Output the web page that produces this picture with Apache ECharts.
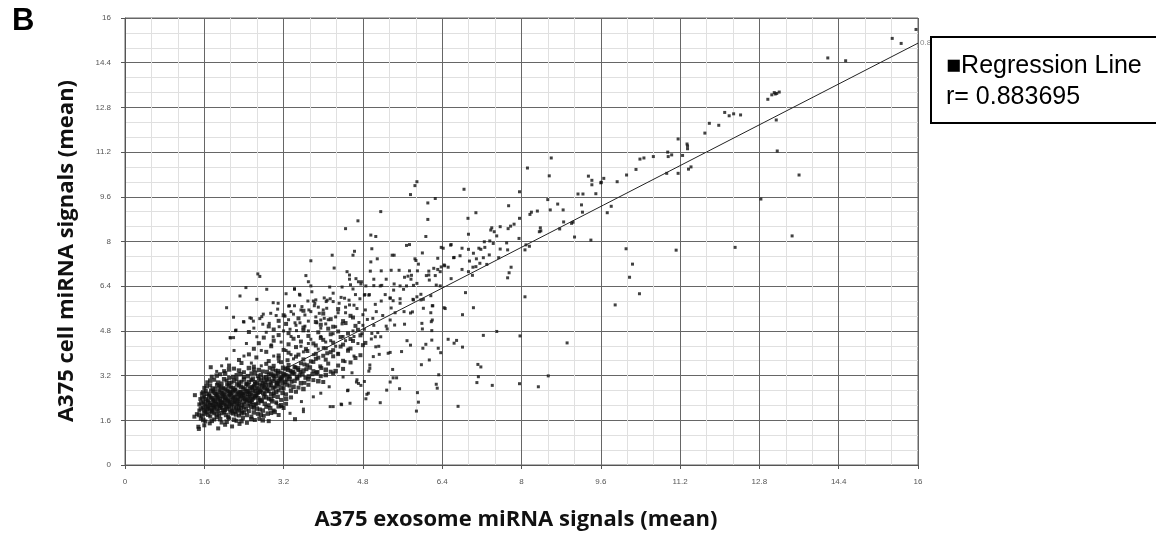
<!DOCTYPE html>
<html>
<head>
<meta charset="utf-8">
<script src="https://cdn.jsdelivr.net/npm/echarts@6/dist/echarts.min.js"></script>
<style>
  html, body { margin: 0; padding: 0; background: #fff; }
  #chart { width: 1156px; height: 533px; }
</style>
</head>
<body>
<div id="chart"></div>
<script>
// tick labels for both axes
var tickLabels = ["0", "1.6", "3.2", "4.8", "6.4", "8", "9.6", "11.2", "12.8", "14.4", "16"];

// dense cluster at low signals (estimated)
var clusterPoints = [
  [1.48,1.37],[1.49,1.29],[1.88,1.31],[1.71,1.49],[2.02,1.44],[2.16,1.38],[2.31,1.47],[1.6,1.42],
  [1.40,1.73],[1.62,1.56],[1.8,1.63],[1.95,1.52],[2.1,1.67],[2.25,1.58],[2.46,1.51],[2.62,1.61],[2.71,1.66],[2.9,1.57],[3.43,1.64],[1.53,1.66],[2.38,1.69],
  [1.45,1.82],[1.55,1.76],[1.65,1.88],[1.72,1.74],[1.8,1.85],[1.9,1.78],[2.0,1.89],[2.08,1.72],[2.18,1.84],[2.3,1.77],[2.4,1.87],[2.55,1.73],[2.68,1.83],[2.8,1.76],[2.95,1.86],[3.1,1.79],[1.85,1.71],[2.22,1.9],
  [1.5,1.95],[1.57,2.06],[1.62,1.92],[1.7,2.02],[1.76,1.97],[1.82,2.08],[1.88,1.93],[1.95,2.04],[2.02,1.96],[2.1,2.09],[2.16,1.94],[2.24,2.03],[2.3,1.98],[2.4,2.07],[2.5,1.93],[2.6,2.05],[2.72,1.99],[2.85,2.08],[3.0,1.95],[3.2,2.04],[1.66,2.0],[1.92,2.1],[2.06,2.01],[2.36,1.91],
  [1.5,2.17],[1.58,2.26],[1.64,2.12],[1.7,2.22],[1.75,2.15],[1.8,2.28],[1.85,2.19],[1.9,2.13],[1.96,2.25],[2.02,2.18],[2.08,2.29],[2.14,2.14],[2.2,2.23],[2.26,2.16],[2.32,2.27],[2.4,2.2],[2.48,2.12],[2.56,2.25],[2.64,2.18],[2.75,2.28],[2.9,2.14],[3.05,2.24],[3.25,2.19],[1.78,2.11],[1.93,2.21],[2.11,2.2],[2.29,2.11],[2.52,2.29],
  [1.52,2.36],[1.6,2.45],[1.67,2.32],[1.73,2.42],[1.78,2.35],[1.83,2.48],[1.88,2.39],[1.93,2.31],[1.98,2.44],[2.04,2.37],[2.1,2.49],[2.16,2.33],[2.22,2.43],[2.28,2.36],[2.34,2.47],[2.4,2.4],[2.46,2.32],[2.52,2.45],[2.58,2.38],[2.65,2.49],[2.72,2.34],[2.8,2.44],[2.9,2.37],[3.0,2.47],[3.15,2.33],[3.35,2.42],[1.41,2.5],[2.01,2.33],[2.19,2.46],[2.37,2.34],[2.61,2.41],
  [1.55,2.56],[1.63,2.65],[1.7,2.52],[1.78,2.62],[1.85,2.55],[1.9,2.68],[1.96,2.58],[2.02,2.51],[2.08,2.64],[2.14,2.57],[2.2,2.69],[2.26,2.53],[2.32,2.63],[2.38,2.56],[2.44,2.67],[2.5,2.6],[2.56,2.52],[2.62,2.65],[2.68,2.58],[2.75,2.69],[2.82,2.54],[2.9,2.64],[3.0,2.57],[3.1,2.67],[3.25,2.53],[3.45,2.62],[2.29,2.59],[2.47,2.54],[2.71,2.61],[2.12,2.62],
  [1.6,2.76],[1.72,2.85],[1.82,2.72],[1.9,2.82],[1.98,2.75],[2.06,2.88],[2.14,2.78],[2.22,2.71],[2.3,2.84],[2.38,2.77],[2.45,2.89],[2.52,2.73],[2.6,2.83],[2.66,2.76],[2.72,2.87],[2.8,2.8],[2.88,2.72],[2.95,2.85],[3.02,2.78],[3.1,2.89],[3.2,2.74],[3.32,2.84],[3.5,2.77],[3.7,2.87],[2.57,2.79],[2.84,2.88],
  [1.66,2.96],[1.8,3.05],[1.95,2.92],[2.05,3.02],[2.15,2.95],[2.25,3.08],[2.35,2.98],[2.45,2.91],[2.55,3.04],[2.62,2.97],[2.7,3.09],[2.78,2.93],[2.86,3.03],[2.94,2.96],[3.02,3.07],[3.1,3.0],[3.18,2.92],[3.26,3.05],[3.36,2.98],[3.48,3.09],[3.62,2.94],[3.8,3.04],[4.0,2.97],[3.06,2.95],[3.14,3.08],
  [1.75,3.16],[1.92,3.25],[2.1,3.12],[2.25,3.22],[2.4,3.15],[2.55,3.28],[2.68,3.18],[2.8,3.11],[2.9,3.24],[3.0,3.17],[3.08,3.29],[3.16,3.13],[3.24,3.23],[3.32,3.16],[3.42,3.27],[3.52,3.2],[3.64,3.12],[3.78,3.25],[3.95,3.18],[4.2,3.28],[2.98,3.21],[3.2,3.19],
  [1.73,3.5],[2.0,3.36],[2.2,3.45],[2.4,3.32],[2.6,3.42],[2.78,3.35],[2.92,3.48],[3.04,3.38],[3.14,3.31],[3.24,3.44],[3.34,3.37],[3.44,3.49],[3.54,3.33],[3.66,3.43],[3.8,3.36],[3.96,3.47],[4.15,3.34],[4.4,3.44],[3.5,3.4],[3.28,3.47],
  [2.1,3.56],[2.35,3.65],[2.6,3.52],[2.85,3.62],[3.0,3.55],[3.15,3.68],[3.3,3.58],[3.42,3.51],[3.55,3.64],[3.68,3.57],[3.8,3.69],[3.94,3.53],[4.1,3.63],[4.3,3.56],[4.55,3.67],[3.62,3.6],
  [2.3,3.76],[2.65,3.85],[2.9,3.72],[3.1,3.82],[3.28,3.75],[3.45,3.88],[3.6,3.78],[3.75,3.71],[3.9,3.84],[4.05,3.77],[4.2,3.89],[4.4,3.73],[4.65,3.83],[3.85,3.8],
  [2.5,3.96],[2.85,4.05],[3.1,3.92],[3.3,4.02],[3.5,3.95],[3.68,4.08],[3.85,3.98],[4.0,3.91],[4.15,4.04],[4.3,3.97],[4.5,4.09],[4.75,3.93],[4.08,4.0],
  [2.6,4.16],[2.95,4.25],[3.2,4.12],[3.45,4.22],[3.65,4.15],[3.85,4.28],[4.05,4.18],[4.2,4.11],[4.35,4.24],[4.55,4.17],[4.8,4.29],
  [2.7,4.36],[3.0,4.45],[3.3,4.32],[3.55,4.42],[3.8,4.35],[4.0,4.48],[4.2,4.38],[4.4,4.31],[4.6,4.44],[4.85,4.37],
  [2.8,4.56],[3.1,4.65],[3.4,4.52],[3.7,4.62],[3.95,4.55],[4.15,4.68],[4.35,4.58],[4.55,4.51],[4.75,4.64],
  [2.5,4.76],[3.0,4.85],[3.3,4.72],[3.6,4.82],[3.9,4.75],[4.1,4.88],[4.3,4.78],[4.5,4.71],[4.7,4.84],
  [2.9,4.96],[3.25,5.05],[3.6,4.92],[3.95,5.02],[4.2,4.95],[4.45,5.08],[4.65,4.98],
  [3.1,5.16],[3.5,5.25],[3.85,5.12],[4.15,5.22],[4.4,5.15],[4.6,5.28],
  [3.2,5.36],[3.6,5.52],[4.0,5.42],[4.3,5.58],[4.55,5.34]
];

// more points filling the black core of the cluster
var clusterCore = [
  [1.58,1.61],[1.75,1.58],[1.92,1.64],[2.05,1.55],[2.2,1.62],[2.35,1.57],[2.55,1.64],[2.78,1.6],
  [1.5,1.79],[1.6,1.84],[1.68,1.8],[1.76,1.9],[1.85,1.81],[1.95,1.86],[2.04,1.79],[2.13,1.88],[2.24,1.81],[2.35,1.85],[2.46,1.79],[2.6,1.88],[2.74,1.8],[2.88,1.84],[3.02,1.9],
  [1.53,2.02],[1.6,1.98],[1.67,2.07],[1.73,1.94],[1.79,2.03],[1.85,1.99],[1.91,2.06],[1.98,1.97],[2.04,2.08],[2.13,1.99],[2.2,2.06],[2.27,1.95],[2.34,2.04],[2.44,1.99],[2.55,2.08],[2.66,2.02],[2.78,1.95],[2.93,2.03],[3.1,2.1],
  [1.54,2.22],[1.61,2.17],[1.67,2.27],[1.72,2.14],[1.77,2.24],[1.83,2.16],[1.88,2.26],[1.94,2.15],[1.99,2.22],[2.05,2.13],[2.11,2.26],[2.17,2.19],[2.23,2.28],[2.29,2.2],[2.36,2.14],[2.44,2.27],[2.52,2.2],[2.6,2.14],[2.69,2.23],[2.82,2.19],[2.97,2.28],[3.15,2.14],
  [1.56,2.41],[1.63,2.35],[1.7,2.46],[1.76,2.39],[1.81,2.31],[1.86,2.43],[1.91,2.36],[1.96,2.48],[2.02,2.41],[2.07,2.33],[2.13,2.45],[2.19,2.38],[2.25,2.31],[2.31,2.42],[2.37,2.49],[2.43,2.37],[2.49,2.43],[2.55,2.34],[2.62,2.46],[2.69,2.39],[2.76,2.31],[2.85,2.42],[2.95,2.35],[3.08,2.44],[3.25,2.37],
  [1.58,2.6],[1.66,2.55],[1.74,2.66],[1.81,2.58],[1.88,2.52],[1.93,2.63],[1.99,2.55],[2.05,2.67],[2.11,2.54],[2.17,2.61],[2.23,2.66],[2.29,2.52],[2.35,2.6],[2.41,2.53],[2.47,2.64],[2.53,2.57],[2.59,2.68],[2.65,2.53],[2.72,2.63],[2.79,2.58],[2.86,2.67],[2.95,2.53],[3.05,2.62],[3.18,2.58],[3.35,2.66],
  [1.65,2.82],[1.77,2.74],[1.86,2.86],[1.94,2.79],[2.02,2.72],[2.1,2.83],[2.18,2.75],[2.26,2.88],[2.34,2.8],[2.41,2.72],[2.48,2.85],[2.56,2.77],[2.63,2.89],[2.69,2.71],[2.76,2.83],[2.83,2.76],[2.91,2.87],[2.98,2.74],[3.06,2.84],[3.15,2.77],[3.26,2.88],[3.4,2.8],[3.6,2.72],
  [1.72,3.02],[1.88,2.95],[2.0,3.07],[2.1,2.93],[2.2,3.02],[2.3,2.95],[2.4,3.06],[2.5,2.97],[2.58,3.09],[2.66,2.94],[2.74,3.03],[2.82,2.96],[2.9,3.08],[2.98,3.01],[3.07,2.93],[3.15,3.04],[3.23,2.97],[3.32,3.08],[3.42,3.01],[3.55,2.93],[3.7,3.07],[3.9,3.0],
  [1.85,3.2],[2.02,3.28],[2.18,3.15],[2.33,3.25],[2.48,3.18],[2.62,3.3],[2.74,3.21],[2.85,3.14],[2.95,3.27],[3.04,3.2],[3.12,3.12],[3.2,3.26],[3.28,3.19],[3.37,3.3],[3.47,3.14],[3.58,3.24],[3.71,3.17],[3.86,3.29],[4.05,3.22],
  [2.1,3.42],[2.3,3.38],[2.5,3.47],[2.7,3.4],[2.86,3.33],[2.98,3.44],[3.09,3.36],[3.19,3.48],[3.29,3.41],[3.39,3.33],[3.49,3.46],[3.6,3.38],[3.73,3.49],[3.88,3.32],[4.05,3.41],[4.25,3.36]
];

// medium-density cloud around the cluster
var spreadPoints = [
  [6.87,6.17],[7.03,5.63],[6.81,5.38],[6.46,5.6],[8.07,6.02],[7.5,4.78],[7.23,4.64],[7.97,4.62],[8.92,4.37],[6.52,4.5],[6.69,4.46],[6.64,4.36],[6.81,4.22],[6.32,4.18],[6.37,4.02],[6.01,4.18],[6.07,4.32],[6.19,4.47],[5.69,4.45],[5.76,4.29],[5.58,4.06],[5.35,4.03],[5.13,3.96],[6.14,3.76],[5.98,3.59],[5.4,3.42],[7.12,3.6],[7.18,3.51],[7.13,3.16],[7.1,2.95],[7.41,2.85],[7.96,2.91],[8.34,2.8],[8.54,3.19],[6.33,3.23],[6.28,2.89],[6.3,2.75],[5.41,3.12],[5.48,3.12],[5.35,2.97],[5.28,2.68],[5.54,2.73],[4.91,2.57],[4.86,2.37],[5.15,2.23],[5.9,2.59],[5.92,2.25],[5.88,1.93],[6.72,2.1],[4.54,2.21],[4.37,2.16],[4.49,2.66],[4.67,2.97],[4.76,2.85],[4.83,2.99],[4.94,3.58],[4.92,3.36],[5.12,4.25],[5.06,4.23],[5.05,4.59],[4.97,4.51],[5.16,4.59],[4.98,4.71],[5.02,5.0],[5.27,4.97],[5.44,5.01],[5.64,5.04],[5.99,5.07],[6.0,4.87],[6.18,5.13],[6.19,4.81],[6.2,5.19],[6.17,5.45],[6.2,5.7],[6.02,5.61],[6.17,6.06],[5.97,5.91],[5.82,5.91],[5.76,5.44],[5.8,5.48],[5.63,5.49],[5.37,5.62],[5.55,5.79],[5.35,5.98],[5.41,5.88],[5.17,5.87],[5.07,5.49],[5.35,5.19],[5.29,4.87],[5.1,4.74],[4.83,4.86],[4.89,5.21],[4.8,5.38],[4.93,6.1],[4.84,6.1],[5.97,6.11],[6.36,6.41],[6.28,6.44],
  [5.89,10.14],[5.85,10.0],[5.76,9.68],[6.26,9.54],[6.11,9.38],[5.16,9.07],[6.11,8.79],[4.7,8.74],[4.45,8.46],[4.96,8.23],[5.06,8.18],[6.07,8.18],[5.68,7.86],[5.74,7.89],[4.98,7.74],[4.63,7.65],[4.6,7.51],[6.0,7.59],[6.38,7.79],[6.58,7.89],[5.39,7.51],[5.43,7.51],[4.18,7.51],[3.75,7.31],[5.09,7.38],[4.96,7.27],[5.85,7.38],[5.87,7.32],[6.31,7.4],[6.64,7.43],[5.92,7.19],[4.22,7.05],[4.48,6.92],[4.53,6.8],[4.95,6.94],[5.17,6.95],[5.37,6.97],[5.53,6.97],[5.74,6.95],[5.71,6.76],[5.78,6.79],[5.9,6.95],[6.23,7.04],[6.31,7.0],[6.38,7.09],[6.45,7.13],[6.36,6.92],[6.13,6.94],[6.13,6.8],[6.14,6.62],[6.26,6.78],[6.08,6.78],[6.58,6.67],[3.65,6.78],[3.7,6.56],[3.75,6.41],[3.42,6.31],[3.25,6.13],[3.53,6.08],[4.13,6.37],[4.38,6.37],[4.53,6.65],[4.66,6.67],[4.71,6.56],[4.77,6.56],[4.76,6.48],[4.86,6.41],[5.02,6.65],[5.02,6.42],[5.15,6.41],[5.27,6.65],[5.43,6.48],[5.42,6.26],[5.55,6.41],[5.64,6.72],[5.77,6.65],[5.68,6.41],[5.62,6.29],[5.82,6.43],[5.89,6.5],[5.18,6.43],[4.83,6.08],[4.92,6.08],[5.35,5.97],[5.81,5.93],[5.89,6.02],[6.02,5.93],[6.21,5.7],[6.44,5.63],[4.02,5.98],[4.08,5.9],[4.14,5.95],[4.06,5.85],[3.32,5.7],[3.42,5.7],[3.57,5.67],[3.8,5.87],[3.82,5.7],[4.32,5.79],[4.43,5.97],[4.53,5.73],[4.62,5.72],[4.2,6.15],
  [2.68,6.84],[2.72,6.75],[2.44,6.35],[2.86,6.29],[2.32,6.05],[2.66,5.93],[3.42,6.29],[3.52,6.11],[3.77,6.2],[2.99,5.81],[3.09,5.79],[3.08,5.58],[2.05,5.63],[2.19,5.29],[2.4,5.12],[2.52,5.27],[2.59,5.15],[2.72,5.24],[2.76,5.31],[2.79,5.4],[2.91,5.07],[2.94,5.43],[2.78,5.04],[3.11,4.95],[2.23,4.81],[2.13,4.55],[3.3,5.69],[3.35,5.49],[3.4,5.4],[3.23,5.33],[3.43,5.09],[3.53,5.09],[3.63,4.97],[3.69,5.87],[3.85,5.91],[3.83,5.79],[3.71,5.55],[3.75,5.49],[3.92,5.43],[4.0,5.55],[4.07,5.61],[3.95,5.19],[4.02,5.25],[3.63,5.37],[3.87,5.09],[3.33,4.86],[3.46,4.81],[2.66,4.59],[2.99,4.59],
  [2.19,4.56],[2.12,4.56],[2.39,5.13],[2.24,4.83],[2.55,5.25],[4.14,2.09],[4.2,2.09],[4.36,2.18],[4.88,2.53],[4.71,2.92],[4.5,2.68],[4.94,3.46],[5.01,3.88],[5.31,4.0],[3.6,1.91],[3.56,2.27],[3.6,2.0],[3.8,2.44],[3.95,2.57],[4.12,2.8],[3.33,1.85],[3.16,2.09],[3.06,2.21],
  [4.38,5.05],[4.45,5.45],[4.52,5.9],[4.6,6.3],[4.68,5.6],[4.72,5.1],[4.4,4.6],[4.5,4.15],[4.62,3.9],[4.7,4.35],[4.78,4.7],[4.44,3.7],[4.58,3.3],[4.68,3.05],[4.4,3.15],[4.36,6.0],[4.74,5.95],[4.55,6.45],[4.3,5.45],[4.25,4.95],[4.15,4.45],[4.1,5.2],[3.95,4.6],[3.7,4.35],[3.5,4.6],[3.25,4.1],[3.0,3.9],[3.4,3.8],[4.3,4.0],[4.6,4.8],
  [3.15,4.4],[3.35,4.6],[3.55,4.25],[3.75,4.5],[3.9,4.15],[4.05,4.4],[3.2,4.8],[3.45,5.0],[3.7,4.8],[3.95,4.9],[4.2,4.7],[3.3,5.2],[3.7,5.15],[4.05,5.05],[4.25,5.3],[3.85,5.3],[3.55,5.55],[3.9,5.65],[4.2,5.85],[4.45,5.65],[4.65,6.1],[3.05,5.35],[2.85,4.75],[2.6,4.9],[2.95,4.3],[2.75,4.1],[2.45,4.35],[2.4,3.9],[2.2,4.1],[2.05,3.8],[1.95,3.55],[1.85,3.35],[2.55,3.65],[2.75,3.55],[3.1,3.7],[3.35,3.95],[3.6,4.05],[3.8,3.95],[4.0,4.2],[4.25,4.25],[4.45,4.45],[4.62,4.6],[4.8,5.0],[5.0,5.25],[5.2,5.35],[5.45,5.45],[5.55,5.95],[5.25,6.1],[5.05,5.75],[4.85,5.55]
];

// sparse points at higher signals
var upperPoints = [
  [15.96,15.59],[15.48,15.27],[15.66,15.09],[14.18,14.57],[14.54,14.47],
  [13.05,13.25],[13.1,13.33],[13.15,13.3],[13.2,13.35],[13.12,13.28],[12.97,13.09],[13.14,12.35],[13.16,11.24],[13.6,10.38],[12.83,9.52],[13.46,8.2],[12.31,7.79],[10.11,7.74],[11.12,7.69],
  [12.1,12.62],[12.19,12.5],[12.28,12.57],[12.42,12.53],[11.79,12.23],[11.98,12.16],[11.7,11.88],[11.16,11.67],[11.34,11.49],[11.35,11.32],[11.35,11.42],[10.95,11.2],[11.03,11.1],[11.25,11.08],[10.96,11.04],[10.66,11.04],[10.47,10.99],[10.39,10.95],[10.31,10.58],[10.93,10.44],[11.16,10.44],[11.37,10.59],[11.42,10.67],[10.12,10.38],[9.93,10.14],[9.66,10.26],[9.6,10.1],[9.81,9.26],[9.73,9.03],
  [8.6,10.99],[8.12,10.63],[8.56,10.35],[6.84,9.87],[7.96,9.78],[9.35,10.34],[9.42,10.19],[9.42,10.03],[9.61,10.12],
  [9.14,9.7],[9.24,9.7],[9.5,9.71],[8.53,9.5],[8.73,9.34],[7.74,9.28],[8.58,9.13],[8.84,9.13],[9.21,9.31],[9.23,9.05],[7.08,9.03],[8.2,9.05],[8.32,9.09],[8.17,8.97],[7.96,8.83],[6.92,8.83],[8.85,8.7],[9.04,8.69],[9.01,8.65],[7.57,8.53],[7.4,8.49],[7.38,8.41],[7.78,8.55],[7.85,8.62],[7.73,8.46],[7.45,8.35],[7.5,8.2],[6.93,8.26],[8.38,8.49],[8.39,8.38],[8.36,8.35],[8.77,8.45],[9.07,8.16],[9.4,8.05],[7.95,8.11],[7.25,7.99],[7.43,7.93],[7.36,8.02],[7.7,7.95],[8.09,7.88],[8.16,7.83],[8.07,7.7],[6.57,7.87],[6.42,7.76],[6.8,7.76],[6.93,7.72],[7.14,7.76],[7.18,7.72],[7.26,7.79],[7.57,7.73],[7.72,7.7],[7.03,7.58],[6.63,7.42],[6.76,7.49],[7.09,7.38],[7.23,7.42],[7.35,7.52],[7.54,7.42],[7.16,7.22],[7.3,7.18],[6.95,7.3],[6.44,7.16],[6.52,7.08],[6.8,7.0],[7.02,7.08],[7.08,7.1],[6.93,6.92],[7.01,6.79],[7.79,7.08],[7.75,6.88],[7.72,6.7],[10.24,7.19],[10.18,6.72],[9.89,5.73],[10.38,6.13]
];

// regression line ends and its r value
var regressionLine = [[3.3, 3.5], [16, 15.1]];
var rValue = "0.883695";

var chart = echarts.init(document.getElementById("chart"));

var axisCommon = {
  type: "value",
  min: 0,
  max: 16,
  interval: 1.6,
  offset: 8,
  axisLine: { show: true, lineStyle: { color: "#555", width: 1 } },
  axisTick: { show: true, length: 4, lineStyle: { color: "#555" } },
  axisLabel: {
    fontSize: 8,
    color: "#555",
    fontFamily: "Liberation Sans",
    formatter: function (v) {
      return tickLabels[Math.round(v / 1.6)];
    }
  },
  splitLine: { show: true, lineStyle: { color: "#666", width: 1 } },
  minorTick: { show: false, splitNumber: 3 },
  minorSplitLine: { show: true, lineStyle: { color: "#e0e0e0", width: 1 } }
};

var dotStyle = { color: "#111" };

var option = {
  animation: false,
  grid: {
    left: 125,
    top: 18,
    width: 793,
    height: 447,
    show: true,
    borderColor: "#666",
    borderWidth: 1
  },
  xAxis: Object.assign({}, axisCommon, {
    axisLabel: Object.assign({}, axisCommon.axisLabel, { margin: 5 })
  }),
  yAxis: Object.assign({}, axisCommon, {
    axisLabel: Object.assign({}, axisCommon.axisLabel, { margin: 6 })
  }),
  series: [
    {
      type: "scatter",
      symbol: "rect",
      symbolSize: 4,
      itemStyle: dotStyle,
      data: clusterPoints
    },
    {
      type: "scatter",
      symbol: "rect",
      symbolSize: 4.5,
      itemStyle: dotStyle,
      data: clusterCore
    },
    {
      type: "scatter",
      symbol: "rect",
      symbolSize: 3,
      itemStyle: dotStyle,
      data: spreadPoints
    },
    {
      type: "scatter",
      symbol: "rect",
      symbolSize: 3,
      itemStyle: dotStyle,
      data: upperPoints
    },
    {
      type: "line",
      data: regressionLine,
      showSymbol: false,
      symbol: "none",
      lineStyle: { color: "#222", width: 1 },
      clip: false,
      z: 5,
      endLabel: {
        show: true,
        formatter: rValue,
        fontSize: 8,
        color: "#888",
        fontFamily: "Liberation Sans",
        distance: 2
      }
    }
  ],
  graphic: [
    {
      type: "text",
      left: 12,
      top: 6,
      style: { text: "B", font: "bold 31px 'Liberation Sans'", fill: "#000" }
    },
    {
      type: "text",
      x: 67,
      y: 251,
      rotation: Math.PI / 2,
      style: {
        text: "A375 cell miRNA signals (mean)",
        font: "bold 22px 'Open Sans'",
        fill: "#111",
        textAlign: "center",
        textVerticalAlign: "middle"
      }
    },
    {
      type: "text",
      x: 516,
      y: 520,
      style: {
        text: "A375 exosome miRNA signals (mean)",
        font: "bold 22px 'Open Sans'",
        fill: "#111",
        textAlign: "center",
        textVerticalAlign: "middle"
      }
    },
    {
      type: "rect",
      z: 100,
      shape: { x: 931, y: 37, width: 240, height: 86 },
      style: { fill: "#fff", stroke: "#000", lineWidth: 2 }
    },
    {
      type: "text",
      z: 101,
      x: 946,
      y: 66,
      style: {
        text: "\u25A0Regression Line",
        font: "25px 'Liberation Sans'",
        fill: "#000",
        textVerticalAlign: "middle"
      }
    },
    {
      type: "text",
      z: 101,
      x: 946,
      y: 97,
      style: {
        text: "r= " + rValue,
        font: "25px 'Liberation Sans'",
        fill: "#000",
        textVerticalAlign: "middle"
      }
    }
  ]
};

chart.setOption(option);
window.addEventListener("resize", function () {
  chart.resize();
});
</script>
</body>
</html>
